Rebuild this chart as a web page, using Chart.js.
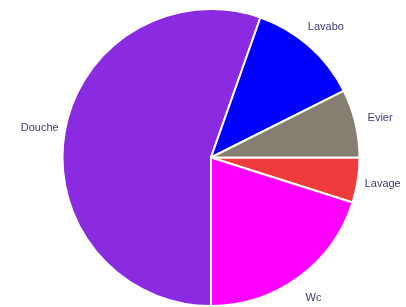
<!DOCTYPE html>
<html>
<head>
<meta charset="utf-8">
<script src="https://cdn.jsdelivr.net/npm/chart.js@4"></script>
<style>
  html, body { margin: 0; padding: 0; background: #fff; }
  #wrap { width: 406px; height: 307px; }
</style>
</head>
<body>
<div id="wrap"><canvas id="pie"></canvas></div>
<script>
// ── Data (clockwise from 3 o'clock) ───────────────────────────
const labels = ['Lavage', 'Wc', 'Douche', 'Lavabo', 'Evier'];
const values = [4.9, 20.1, 55.4, 12.2, 7.4];
const colors = ['#EE3B3B', '#FF00FF', '#8A2BE2', '#0000FF', '#857F72'];

// ── Outside labels at slice mid-angle ─────────────────────────
const outsideLabels = {
  id: 'outsideLabels',
  afterDraw(chart) {
    const { ctx } = chart;
    const arcs = chart.getDatasetMeta(0).data;
    ctx.save();
    ctx.font = "11px 'Liberation Sans', Arial, sans-serif";
    ctx.fillStyle = '#3C3C78';
    ctx.textAlign = 'center';
    ctx.textBaseline = 'middle';
    arcs.forEach((arc, i) => {
      const mid = (arc.startAngle + arc.endAngle) / 2;
      const r = arc.outerRadius * 1.17;
      ctx.fillText(labels[i], arc.x + Math.cos(mid) * r, arc.y + Math.sin(mid) * r);
    });
    ctx.restore();
  },
};

new Chart(document.getElementById('pie'), {
  type: 'pie',
  data: {
    labels,
    datasets: [{
      data: values,
      backgroundColor: colors,
      borderColor: '#FFFFFF',
      borderWidth: 2,
    }],
  },
  options: {
    responsive: true,
    maintainAspectRatio: false,
    animation: false,
    rotation: 90,
    layout: { padding: { top: 8, bottom: 0, left: 61, right: 45 } },
    plugins: {
      legend: { display: false },
      tooltip: { enabled: false },
    },
  },
  plugins: [outsideLabels],
});
</script>
</body>
</html>
